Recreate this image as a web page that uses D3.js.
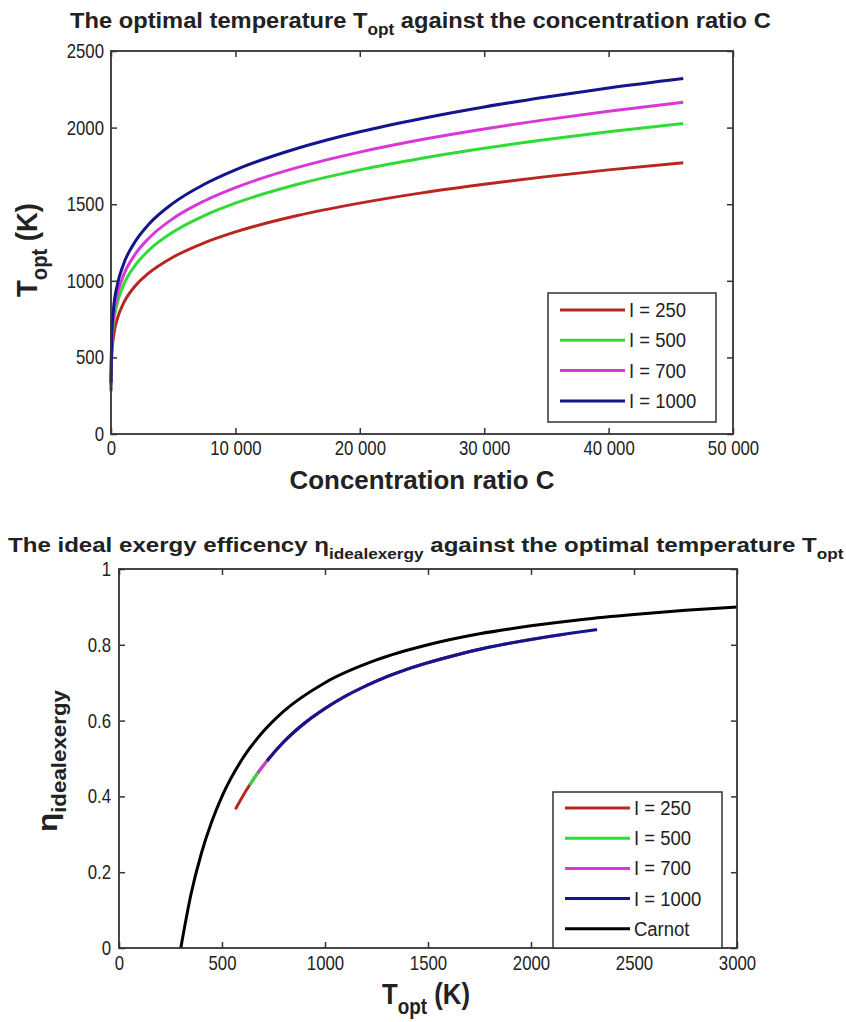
<!DOCTYPE html>
<html>
<head>
<meta charset="utf-8">
<script src="https://cdn.jsdelivr.net/npm/d3@7"></script>
<style>
  body { margin: 0; background: #fff; }
  svg text { font-family: "Liberation Sans", Arial, Helvetica, sans-serif; fill: #222; }
</style>
</head>
<body>
<div id="graphic"></div>
<script>
// top chart: T_opt (K) at these concentration ratios
const concentration = [1, 50, 200, 500, 1000, 2000, 3000, 5000, 7500, 10000, 15000, 20000, 25000, 30000, 35000, 40000, 46000]
const tOptI250  = [279, 497, 634, 750, 852, 971, 1048, 1155, 1248, 1319, 1426, 1507, 1574, 1630, 1680, 1724, 1771]
const tOptI500  = [304, 561, 719, 852, 971, 1107, 1196, 1319, 1426, 1507, 1630, 1724, 1800, 1865, 1922, 1973, 2027]
const tOptI700  = [318, 595, 765, 908, 1034, 1180, 1275, 1407, 1521, 1608, 1740, 1840, 1922, 1991, 2052, 2106, 2165]
const tOptI1000 = [334, 634, 817, 971, 1107, 1263, 1366, 1507, 1630, 1724, 1865, 1973, 2060, 2135, 2200, 2259, 2321]

// bottom chart: ideal exergy efficiency against T_opt
const exTempI250 = [565, 600, 634, 700, 800, 900, 1000, 1100, 1200, 1300, 1400, 1500, 1600, 1700, 1771]
const exEtaI250  = [0.366, 0.400, 0.430, 0.481, 0.544, 0.593, 0.632, 0.665, 0.692, 0.716, 0.736, 0.753, 0.768, 0.782, 0.790]
const exTempI500 = [634, 674, 719, 800, 900, 1000, 1200, 1400, 1600, 1800, 2027]
const exEtaI500  = [0.430, 0.462, 0.494, 0.544, 0.593, 0.632, 0.692, 0.736, 0.768, 0.794, 0.817]
const exTempI700 = [674, 719, 800, 900, 1000, 1200, 1400, 1600, 1800, 2000, 2165]
const exEtaI700  = [0.462, 0.494, 0.544, 0.593, 0.632, 0.692, 0.736, 0.768, 0.794, 0.814, 0.828]
const exTempI1000 = [719, 800, 900, 1000, 1100, 1200, 1300, 1400, 1500, 1600, 1800, 2000, 2200, 2321]
const exEtaI1000  = [0.494, 0.544, 0.593, 0.632, 0.665, 0.692, 0.716, 0.736, 0.753, 0.768, 0.794, 0.814, 0.831, 0.840]
const carnotTemp = [300, 350, 400, 450, 500, 600, 700, 800, 1000, 1250, 1500, 1750, 2000, 2250, 2500, 2750, 3000]
const carnotEta  = [0, 0.143, 0.25, 0.333, 0.4, 0.5, 0.571, 0.625, 0.7, 0.76, 0.8, 0.829, 0.85, 0.867, 0.88, 0.891, 0.9]

const topLabels = ['I = 250', 'I = 500', 'I = 700', 'I = 1000']
const bottomLabels = ['I = 250', 'I = 500', 'I = 700', 'I = 1000', 'Carnot']
const topXTicks = [0, 10000, 20000, 30000, 40000, 50000]
const topYTicks = [0, 500, 1000, 1500, 2000, 2500]
const bottomXTicks = [0, 500, 1000, 1500, 2000, 2500, 3000]
const bottomYTicks = [0, 0.2, 0.4, 0.6, 0.8, 1]

;(function () {
  var width = 846
  var height = 1022
  var colors = ['#b8261f', '#2fdc35', '#d838d8', '#14148c', '#000000']
  var axisColor = '#333'

  var svg = d3.select('#graphic')
    .append('svg')
    .attr('width', width)
    .attr('height', height)

  // text with subscripts, parts = [[string, isSub], ...]
  function richText(g, parts, size, bold) {
    var t = g.append('text')
      .style('font-size', size + 'px')
      .style('font-weight', bold ? 'bold' : 'normal')
    var down = false
    parts.forEach(p => {
      var ts = t.append('tspan').text(p[0])
      if (p[1]) {
        ts.style('font-size', Math.round(size * 0.72) + 'px').attr('dy', size * 0.32)
        down = true
      } else if (down) {
        ts.attr('dy', -size * 0.32)
        down = false
      }
    })
    return t
  }

  // squeeze the text to the width it takes in the picture (matlab fonts are narrow)
  function fitText(t, x, y, w, rotate) {
    var bw = t.node().getBBox().width
    t.attr('transform', 'translate(' + x + ',' + y + ')' + (rotate ? ' rotate(' + rotate + ')' : '') + ' scale(' + (w / bw) + ',1)')
  }

  function drawPanel(cfg) {
    var x = d3.scaleLinear().domain(cfg.xDomain).range([cfg.left, cfg.right])
    var y = d3.scaleLinear().domain(cfg.yDomain).range([cfg.bottom, cfg.top])
    var g = svg.append('g')

    var line = d3.line()
      .x(d => x(d[0]))
      .y(d => y(d[1]))
      .curve(d3.curveMonotoneX)

    cfg.series.forEach((s, i) => {
      g.append('path')
        .datum(d3.zip(s[0], s[1]))
        .attr('d', line)
        .attr('fill', 'none')
        .attr('stroke', colors[s[2]])
        .attr('stroke-width', 3)
        .attr('stroke-linejoin', 'round')
    })

    var axes = [
      [d3.axisBottom(x).tickValues(cfg.xTicks).tickFormat(cfg.xFormat), 'translate(0,' + cfg.bottom + ')', 'x'],
      [d3.axisLeft(y).tickValues(cfg.yTicks).tickFormat(cfg.yFormat), 'translate(' + cfg.left + ',0)', 'y'],
      [d3.axisTop(x).tickValues(cfg.xTicks).tickFormat(''), 'translate(0,' + cfg.top + ')', ''],
      [d3.axisRight(y).tickValues(cfg.yTicks).tickFormat(''), 'translate(' + cfg.right + ',0)', '']
    ]
    axes.forEach(a => {
      var ax = g.append('g')
        .attr('transform', a[1])
        .call(a[0].tickSize(-6).tickSizeOuter(0).tickPadding(cfg.pad))
      ax.select('.domain').remove()
      ax.selectAll('line').attr('stroke', axisColor).attr('stroke-width', 1.5)
      ax.selectAll('text').style('font-size', '20px').attr('fill', '#2a2a2a')
      // narrow the tick labels in place
      if (a[2] == 'x') ax.selectAll('text').attr('transform', 'scale(0.84,1)')
      if (a[2] == 'y') ax.selectAll('text').attr('transform', 'translate(' + (-cfg.pad) + ',0) scale(0.84,1) translate(' + cfg.pad + ',0)')
    })

    g.append('rect')
      .attr('x', cfg.left).attr('y', cfg.top)
      .attr('width', cfg.right - cfg.left).attr('height', cfg.bottom - cfg.top)
      .attr('fill', 'none').attr('stroke', axisColor).attr('stroke-width', 1.8)

    // legend
    var lg = cfg.legend
    g.append('rect')
      .attr('x', lg.x0).attr('y', lg.y0)
      .attr('width', lg.x1 - lg.x0).attr('height', lg.y1 - lg.y0)
      .attr('fill', '#fff').attr('stroke', axisColor).attr('stroke-width', 1.5)
    lg.labels.forEach((lab, i) => {
      var yy = lg.rowY + i * lg.rowStep
      g.append('line')
        .attr('x1', lg.lineX0).attr('x2', lg.lineX1)
        .attr('y1', yy).attr('y2', yy)
        .attr('stroke', colors[i < 4 ? i : 4]).attr('stroke-width', 3)
      g.append('text')
        .attr('x', 0).attr('y', 0)
        .attr('transform', 'translate(' + (lg.lineX1 + 4) + ',' + (yy + 7) + ') scale(0.88,1)')
        .style('font-size', '21px')
        .attr('fill', '#2a2a2a')
        .text(lab)
    })
    return g
  }

  // ----- top panel -----
  drawPanel({
    left: 111, right: 733, top: 51, bottom: 434,
    xDomain: [0, 50000], yDomain: [0, 2500],
    xTicks: topXTicks, yTicks: topYTicks, pad: 7,
    xFormat: d => d3.format(',')(d).replace(',', ' '),
    yFormat: d => d,
    series: [
      [concentration, tOptI250, 0],
      [concentration, tOptI500, 1],
      [concentration, tOptI700, 2],
      [concentration, tOptI1000, 3]
    ],
    legend: { x0: 548, x1: 716, y0: 293, y1: 422, rowY: 310, rowStep: 30.3, lineX0: 560, lineX1: 625, labels: topLabels }
  })

  var t1 = richText(svg, [['The optimal temperature T'], ['opt', true], [' against the concentration ratio C']], 22, true)
  fitText(t1, 70, 28, 701)

  var yl1 = richText(svg, [['T'], ['opt', true], [' (K)']], 30, true).attr('text-anchor', 'middle')
  fitText(yl1, 37, 250, 94, -90)

  var xl1 = richText(svg, [['Concentration ratio C']], 25, true).attr('text-anchor', 'middle')
  fitText(xl1, 422, 489, 265)

  // ----- bottom panel -----
  drawPanel({
    left: 119, right: 737, top: 569, bottom: 948,
    xDomain: [0, 3000], yDomain: [0, 1],
    xTicks: bottomXTicks, yTicks: bottomYTicks, pad: 8,
    xFormat: d => d,
    yFormat: d => String(+d.toFixed(1)),
    series: [
      [exTempI250, exEtaI250, 0],
      [exTempI500, exEtaI500, 1],
      [exTempI700, exEtaI700, 2],
      [exTempI1000, exEtaI1000, 3],
      [carnotTemp, carnotEta, 4]
    ],
    legend: { x0: 553, x1: 722, y0: 792, y1: 948, rowY: 808, rowStep: 30.2, lineX0: 565, lineX1: 630, labels: bottomLabels }
  })

  var t2 = richText(svg, [['The ideal exergy efficency \u03b7'], ['idealexergy', true], [' against the optimal temperature T'], ['opt', true]], 21, true)
  fitText(t2, 8, 552, 836)

  var yl2 = richText(svg, [['\u03b7'], ['idealexergy', true]], 28, true).attr('text-anchor', 'middle')
  fitText(yl2, 57, 761, 143, -90)

  var xl2 = richText(svg, [['T'], ['opt', true], [' (K)']], 30, true).attr('text-anchor', 'middle')
  fitText(xl2, 426, 1004, 88)
})()
</script>
</body>
</html>
